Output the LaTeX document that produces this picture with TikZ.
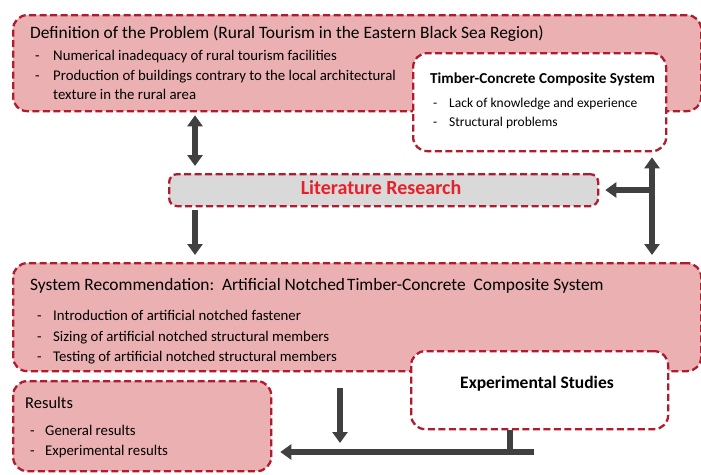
\documentclass[tikz,border=0pt]{standalone}
\usepackage{fontspec}
\setmainfont{Carlito}
\usetikzlibrary{arrows.meta,calc}
\definecolor{boxred}{HTML}{B01C2E}
\definecolor{pinkfill}{HTML}{EBB0B2}
\definecolor{grayfill}{HTML}{D9D9D9}
\definecolor{arrowgray}{HTML}{404040}
\definecolor{litred}{HTML}{E8202A}
\tikzset{
  dbox/.style={draw=boxred, line width=2.3pt, dash pattern=on 7pt off 3.5pt, rounded corners=14pt, anchor=north west, inner sep=0pt},
  pinkbox/.style={dbox, fill=pinkfill},
  whitebox/.style={dbox, fill=white},
  graybox/.style={dbox, fill=grayfill, rounded corners=8pt},
  conn/.style={draw=arrowgray, line width=5.5pt, -{Triangle[width=15pt,length=11pt]}},
  bconn/.style={draw=arrowgray, line width=5.5pt, {Triangle[width=15pt,length=11pt]}-{Triangle[width=15pt,length=11pt]}},
  plain/.style={draw=arrowgray, line width=5.5pt},
  txt/.style={anchor=base west, inner sep=0pt, text=black},
  ttl/.style={txt, font=\fontsize{17.4}{20}\selectfont},
  itm/.style={txt, font=\fontsize{14.8}{17}\selectfont},
  sitm/.style={txt, font=\fontsize{13.5}{16}\selectfont},
}
\begin{document}
\begin{tikzpicture}[x=1pt,y=-1pt]
\useasboundingbox (0,0) rectangle (701,474);
% boxes
\node[pinkbox, minimum width=688pt, minimum height=96pt] (prob) at (12,14) {};
\node[whitebox, minimum width=253pt, minimum height=98pt] (tcc) at (412,52) {};
\node[graybox, minimum width=429pt, minimum height=32pt] (lit) at (168,173) {};
\node[pinkbox, minimum width=688pt, minimum height=108pt] (sys) at (12,262) {};
\node[whitebox, minimum width=257pt, minimum height=78pt] (exp) at (410,350) {};
\node[pinkbox, minimum width=258pt, minimum height=90pt] (res) at (12,380) {};
% texts: problem
\node[ttl] (t1) at (30,38) {Definition of the Problem (Rural Tourism in the Eastern Black Sea Region)};
\node[itm] (d1a) at (35,60) {-};
\node[itm] (b1a) at (53,60) {Numerical inadequacy of rural tourism facilities};
\node[itm] (d1b) at (35,80) {-};
\node[itm] (b1b) at (53,80) {Production of buildings contrary to the local architectural};
\node[itm] (b1c) at (53,99) {texture in the rural area};
% timber concrete
\node[txt, font=\bfseries\fontsize{15.2}{18}\selectfont] (t2) at (430,83) {Timber-Concrete Composite System};
\node[sitm] (d2a) at (433,107) {-};
\node[sitm] (b2a) at (449,107) {Lack of knowledge and experience};
\node[sitm] (d2b) at (433,126) {-};
\node[sitm] (b2b) at (449,126) {Structural problems};
% literature
\node[font=\bfseries\fontsize{20}{22}\selectfont, text=litred, inner sep=0pt] (t3) at (381,188) {Literature Research};
% system recommendation
\node[ttl] (t4) at (30,290) {System Recommendation:\ \ Artificial Notched\kern2pt Timber-Concrete\ \ Composite System};
\node[itm] (d4a) at (37,320) {-};
\node[itm] (b4a) at (53,320) {Introduction of artificial notched fastener};
\node[itm] (d4b) at (37,341) {-};
\node[itm] (b4b) at (53,341) {Sizing of artificial notched structural members};
\node[itm] (d4c) at (37,361) {-};
\node[itm] (b4c) at (53,361) {Testing of artificial notched structural members};
% experimental
\node[font=\bfseries\fontsize{17.5}{20}\selectfont, inner sep=0pt] (t5) at (537,384) {Experimental Studies};
% results
\node[ttl, font=\fontsize{16.5}{19}\selectfont] (t6) at (25,408) {Results};
\node[itm] (d6a) at (30,435) {-};
\node[itm] (b6a) at (45,435) {General results};
\node[itm] (d6b) at (30,455) {-};
\node[itm] (b6b) at (45,455) {Experimental results};
% connector helper coordinates
\coordinate (xa) at (195,0);
\coordinate (xr) at (652,190);
\coordinate (xd) at (340,0);
\coordinate (dtip) at (340,443);
\coordinate (hy) at (534,452);
\coordinate (stub) at (510,452);
% connectors
\draw[bconn, shorten <=3pt, shorten >=7pt] (prob.south -| xa) -- (lit.north -| xa);
\draw[conn, shorten <=3pt, shorten >=7pt] (lit.south -| xa) -- (sys.north -| xa);
\draw[bconn, shorten <=5pt, shorten >=7pt] (tcc.south -| xr) -- (sys.north -| xr);
\draw[conn, shorten >=6pt] (xr) -- (lit.east |- xr);
\draw[conn, shorten <=16pt] (sys.south -| xd) -- (dtip);
\draw[plain] (exp.south -| stub) -- (stub);
\draw[conn, shorten >=8pt] (hy) -- (res.east |- hy);
\end{tikzpicture}
\end{document}
